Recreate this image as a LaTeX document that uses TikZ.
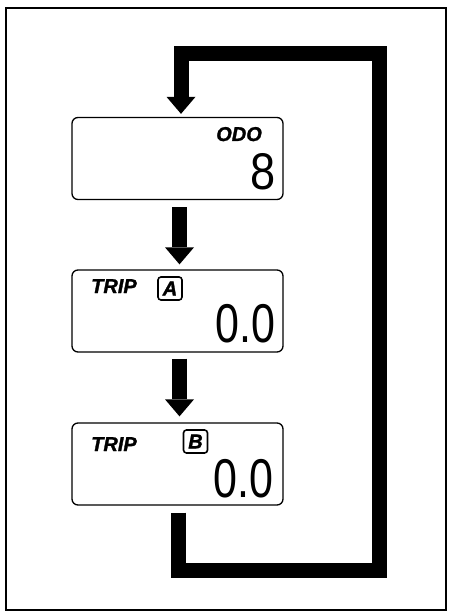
\documentclass[tikz,border=0pt]{standalone}
\usepackage{fontspec}
\setmainfont{Liberation Sans}
\newfontfamily\panelfont[FakeBold=1.5]{Liberation Sans Bold Italic}
\usetikzlibrary{arrows.meta,positioning}

\tikzset{
  display/.style={draw, line width=1.3pt, rounded corners=6pt,
    minimum width=211pt, minimum height=82pt, inner sep=0pt},
  modetext/.style={font=\panelfont\fontsize{20}{20}\selectfont, inner sep=0pt},
  tagbox/.style={draw, line width=1.6pt, rounded corners=3pt, minimum width=24pt,
    minimum height=23pt, inner sep=0pt, font=\panelfont\fontsize{20}{20}\selectfont},
  segtext/.style={font=\fontsize{43}{43}\selectfont, inner sep=0pt},
  flow/.style={line width=15pt, line join=miter,
    -{Triangle[width=29pt, length=17pt, line width=0pt]}}
}

\begin{document}
\begin{tikzpicture}[x=1pt, y=-1pt]
			% page and frame
			\useasboundingbox (0,0) rectangle (448,612);
			\draw[line width=1.2pt] (6,8) rectangle (446,610);
			
			% the three displays
			\node[display] (odo) at (177.5,158.5) {};
			\node[display] (tripa) at (177.5,311) {};
			\node[display] (tripb) at (177.5,464) {};
			
			% odometer
			\node[modetext, anchor=base east] (odotext) at (262,141) {ODO};
			\node[segtext, anchor=south east] (ododigit) at (275.5,190) {\scalebox{1.05}[1.2]{8}};
			
			% trip A
			\node[modetext, anchor=base west] (tripatext) at (91,293) {TRIP};
			\node[tagbox] (taga) at (170,288.5) {A};
			\node[segtext, anchor=south east] (tripadigit) at (275.5,343) {\scalebox{1}[1.27]{0.0}};
			
			% trip B
			\node[modetext, anchor=base west] (tripbtext) at (91,451) {TRIP};
			\node[tagbox] (tagb) at (195.5,441.5) {B};
			\node[segtext, anchor=south east] (tripbdigit) at (273.5,498) {\scalebox{1}[1.27]{0.0}};
			
			% arrows between displays
			\draw[flow, shorten <=7pt, shorten >=5pt] ([xshift=2pt]odo.south) -- ([xshift=2pt]tripa.north);
			\draw[flow, shorten <=6pt, shorten >=6pt] ([xshift=2pt]tripa.south) -- ([xshift=2pt]tripb.north);
			
			% return loop
			\coordinate (loopbr) at (379.5,570.5);
			\coordinate (looptr) at (379.5,54);
			\draw[flow, shorten <=7pt, shorten >=3pt] ([xshift=1pt]tripb.south) |- (loopbr) -- (looptr) -| ([xshift=3.5pt]odo.north);
		\end{tikzpicture}
\end{document}
